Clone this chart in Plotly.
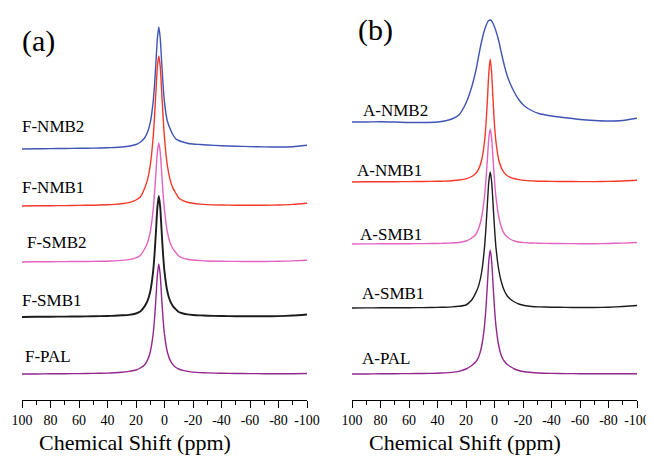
import plotly.graph_objects as go

# ---------------- data ----------------
# chemical-shift grids (ppm)
ppm_a = [100, 90, 80, 70, 60, 50, 40, 35, 30, 25, 20, 17, 14, 12, 10, 8, 7, 6, 5, 4, 3, 2, 1, 0,
         -2, -4, -6, -8, -10, -13, -16, -20, -25, -30, -40, -50, -60, -70, -80, -90, -100]
ppm_b = [100, 90, 80, 70, 60, 50, 40, 35, 30, 25, 20, 16, 13, 11, 9, 7, 6, 5, 4, 3, 2, 1, 0,
         -1, -3, -5, -7, -9, -11, -14, -17, -21, -26, -31, -40, -50, -60, -70, -80, -90, -100]

# panel (a) intensities (arbitrary units)
f_nmb2 = [0, 0.2, 0.4, 0.5, 0.7, 0.9, 1.2, 1.5, 2, 2.8, 4.5, 6.8, 11, 16.4, 26.3, 46.7, 64, 87, 110.8, 122,
          110.8, 87, 64, 46.7, 28, 20, 14, 10, 8.5, 7, 5.8, 5, 4.5, 4, 3.3, 2.8, 2.4, 2.1, 2, 2.3, 3.8]
f_nmb1 = [0, 0.2, 0.3, 0.4, 0.6, 0.8, 1.2, 1.6, 2.2, 3.4, 6, 9, 17.6, 25.9, 40.5, 68, 89.6, 115, 139.5, 150,
          139.5, 115, 89.6, 68, 40.5, 25.9, 17.6, 12.7, 8, 5.3, 3.8, 2.7, 1.9, 1.4, 1, 0.8, 0.7, 0.7, 1, 1.6, 2.8]
f_smb2 = [0, 0.2, 0.3, 0.4, 0.5, 0.6, 0.8, 1.1, 1.6, 2.4, 4.2, 6.5, 13, 19, 30, 51.6, 68.6, 89.7, 110, 119,
          110, 89.7, 68.6, 51.6, 30, 19, 13, 9.3, 6, 3.8, 2.8, 2, 1.4, 1, 0.75, 0.6, 0.5, 0.5, 0.7, 1.1, 1.8]
f_smb1 = [0, 0.2, 0.3, 0.4, 0.5, 0.7, 1, 1.3, 1.7, 2.1, 3.5, 5.4, 10.6, 15.8, 25.5, 45.4, 62.5, 85.4, 109.6, 121,
          109.6, 85.4, 62.5, 45.4, 25.5, 15.8, 10.6, 7.6, 5, 3.5, 2.6, 2, 1.6, 1.3, 1, 0.8, 0.7, 0.7, 0.9, 1.5, 2.5]
f_pal = [0, 0, 0.2, 0.3, 0.4, 0.6, 0.9, 1.2, 1.7, 2.6, 4, 6, 9.1, 13.6, 22, 39.6, 55, 76, 99, 110,
         99, 76, 55, 39.6, 22, 13.6, 9.1, 6.5, 5, 3.6, 2.6, 1.9, 1.4, 1.1, 0.7, 0.5, 0.4, 0.3, 0.3, 0.3, 0.5]

# panel (b) intensities
a_nmb2 = [0, 0, 0.3, 0, -0.5, -0.5, 0, 1, 3, 7, 19, 35, 52, 67, 81, 92, 96, 99.5, 101.5, 102,
          101, 98.5, 95, 91, 81, 68, 56, 46, 38.5, 29.5, 22.5, 16, 11.5, 8.5, 6, 4.2, 2.5, 1.5, 1, 1.5, 3.7]
a_nmb1 = [0, 0.2, 0.2, 0.3, 0.4, 0.5, 0.7, 0.9, 1.3, 2, 3.2, 5.5, 8.9, 13.4, 22, 40.5, 57.3, 81.5, 109, 123,
          109, 81.5, 57.3, 40.5, 22, 13.4, 8.9, 6.3, 4.7, 3.2, 2.4, 1.6, 1.1, 0.8, 0.6, 0.5, 0.4, 0.4, 0.6, 1, 1.7]
a_smb1_1 = [0, 0.1, 0.2, 0.2, 0.3, 0.4, 0.5, 0.7, 1, 1.5, 3, 6, 10, 16, 27, 47.4, 63.8, 84.8, 105.6, 115,
            105.6, 84.8, 63.8, 47.4, 27, 16, 10, 7, 5, 3, 2, 1.4, 1, 0.7, 0.5, 0.4, 0.3, 0.3, 0.5, 0.9, 1.5]
a_smb1_2 = [0, 0.1, 0.2, 0.2, 0.3, 0.4, 0.6, 0.8, 1.1, 1.7, 3, 8, 15.6, 22.9, 36, 60.9, 80.3, 103.9, 126.2, 136,
            126.2, 103.9, 80.3, 60.9, 38, 25, 17, 12, 9, 6, 4, 2.5, 1.5, 1.1, 0.8, 0.6, 0.5, 0.5, 0.8, 1.5, 2.5]
a_pal = [0, 0, 0.2, 0.3, 0.4, 0.5, 0.8, 1.1, 1.6, 2.6, 5, 8.5, 12.5, 17.5, 28, 48.4, 66, 89.2, 113, 124,
         113, 89.2, 66, 48.4, 28, 17.5, 12.5, 9.5, 7.5, 5, 3.5, 2.3, 1.5, 1, 0.6, 0.4, 0.3, 0.2, 0.2, 0.2, 0.3]

labels_a = ["F-NMB2", "F-NMB1", "F-SMB2", "F-SMB1", "F-PAL"]
labels_b = ["A-NMB2", "A-NMB1", "A-SMB1", "A-SMB1", "A-PAL"]
offsets_a = [251, 194, 138, 83, 26]
offsets_b = [278, 218, 156, 92, 26]

tick_vals = [100, 80, 60, 40, 20, 0, -20, -40, -60, -80, -100]
tick_text = ["100", "80", "60", "40", "20", "0", "-20", "-40", "-60", "-80", "-100"]
minor_vals = [90, 70, 50, 30, 10, -10, -30, -50, -70, -90]
x_title = "Chemical Shift (ppm)"

# ---------------- styling ----------------
PAGE_OFF = 8          # default body margin of the html page
W, H = 654 - PAGE_OFF, 464 - PAGE_OFF
AXIS_Y = 400          # page y of the x-axis line
FONT = "Liberation Serif, Times New Roman, serif"
colors = ["#3f55b5", "#f2392a", "#e462c0", "#1c1c1c", "#94278f"]
widths_a = [1.4, 1.4, 1.4, 1.9, 1.4]
widths_b = [1.4, 1.4, 1.4, 1.4, 1.4]

def px(x):
    return (x - PAGE_OFF) / W

def py(y):
    return 1 - (y - PAGE_OFF) / H

fig = go.Figure()

series_a = [f_nmb2, f_nmb1, f_smb2, f_smb1, f_pal]
series_b = [a_nmb2, a_nmb1, a_smb1_1, a_smb1_2, a_pal]

for ys, off, c, w in zip(series_a, offsets_a, colors, widths_a):
    fig.add_trace(go.Scatter(x=ppm_a, y=[v + off for v in ys], mode="lines",
                             line=dict(color=c, width=w, shape="spline", smoothing=0.6),
                             xaxis="x", yaxis="y", showlegend=False, hoverinfo="skip"))
for ys, off, c, w in zip(series_b, offsets_b, colors, widths_b):
    fig.add_trace(go.Scatter(x=ppm_b, y=[v + off for v in ys], mode="lines",
                             line=dict(color=c, width=w, shape="spline", smoothing=0.6),
                             xaxis="x2", yaxis="y2", showlegend=False, hoverinfo="skip"))

def xaxis_style(domain, anchor):
    return dict(
        domain=domain, anchor=anchor, automargin=False,
        range=[100, -100], tickmode="array", tickvals=tick_vals, ticktext=tick_text,
        ticks="outside", ticklen=7, tickwidth=1.2, tickcolor="black",
        minor=dict(tickvals=minor_vals, ticks="outside", ticklen=4, tickwidth=1.2, tickcolor="black"),
        showline=True, linecolor="black", linewidth=1.2, showgrid=False, zeroline=False,
        tickfont=dict(family=FONT, size=14, color="black"),
    )

def yaxis_style(anchor):
    # plot area spans page y from PAGE_OFF to AXIS_Y, 1 data unit = 1 pixel
    return dict(anchor=anchor, range=[0, AXIS_Y - PAGE_OFF], visible=False, showgrid=False,
                zeroline=False, automargin=False, domain=[py(AXIS_Y), 1])

fig.update_layout(
    template="none",
    width=W, height=H, autosize=False,
    margin=dict(l=0, r=0, t=0, b=0, pad=0),
    paper_bgcolor="white", plot_bgcolor="white",
    xaxis=xaxis_style([px(22), px(307)], "y"),
    xaxis2=xaxis_style([px(352), px(637)], "y2"),
    yaxis=yaxis_style("x"),
    yaxis2=yaxis_style("x2"),
)

annotations = []
def add_text(text, x, y, size, xanchor="left"):
    annotations.append(dict(text=text, x=px(x), y=py(y), xref="paper", yref="paper",
                            xanchor=xanchor, yanchor="middle", showarrow=False,
                            font=dict(family=FONT, size=size, color="black")))

add_text("(a)", 20, 41, 30)
add_text("(b)", 356, 30, 30)
label_pos_a = [(20, 126), (20, 187), (25, 242), (20, 300), (23, 356)]
label_pos_b = [(361, 110), (355, 171), (358, 234), (360, 293), (360, 358)]
for t, (x, y) in zip(labels_a, label_pos_a):
    add_text(t, x, y, 17)
for t, (x, y) in zip(labels_b, label_pos_b):
    add_text(t, x, y, 17)
add_text(x_title, 135, 442, 22, xanchor="center")
add_text(x_title, 465, 442, 22, xanchor="center")

fig.update_layout(annotations=annotations)
fig.write_html("out.html")
